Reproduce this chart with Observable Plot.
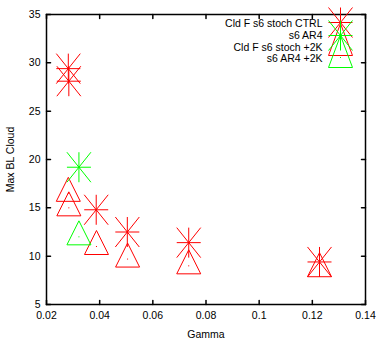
<!DOCTYPE html>
<html><head><meta charset="utf-8">
<script src="https://cdn.jsdelivr.net/npm/d3@7"></script>
<script src="https://cdn.jsdelivr.net/npm/@observablehq/plot@0.6"></script>
<style>body{margin:0;background:#fff}</style>
</head><body><div id="chart"></div>
<script>
// Data
const ctrlGamma = [0.0282, 0.0284, 0.0387, 0.0504, 0.0735, 0.1227];
const ctrlCloud = [29.4, 28.1, 14.8, 12.5, 11.4, 9.4];
const ar4Gamma = [0.0282, 0.0284, 0.0388, 0.0505, 0.0735, 0.1227];
const ar4Cloud = [16.5, 15.0, 11.0, 9.7, 9.0, 8.7];
const stoch2kGamma = [0.0322];
const stoch2kCloud = [19.2];
const ar42kGamma = [0.0322];
const ar42kCloud = [12.0];
const seriesNames = ["Cld F s6 stoch CTRL", "s6 AR4", "Cld F s6 stoch +2K", "s6 AR4 +2K"];
const seriesColors = ["#ff0000", "#ff0000", "#00ff00", "#00ff00"];
const xTicks = [0.02, 0.04, 0.06, 0.08, 0.1, 0.12, 0.14];
const yTicks = [5, 10, 15, 20, 25, 30, 35];

// gnuplot-like point shapes
const star = {draw(c) {
  c.moveTo(-12, 0); c.lineTo(12, 0);
  c.moveTo(0, -15); c.lineTo(0, 15);
  c.moveTo(-12, -15); c.lineTo(12, 15);
  c.moveTo(12, -15); c.lineTo(-12, 15);
  c.moveTo(-0.6, 0); c.lineTo(0.6, 0);
}};
const tri = {draw(c) {
  c.moveTo(0, -16); c.lineTo(12, 8); c.lineTo(-12, 8); c.closePath();
  c.moveTo(-0.5, 0); c.lineTo(0.5, 0);
}};
const triLegend = {draw(c) {
  c.moveTo(0, -24); c.lineTo(12, 8); c.lineTo(-12, 8); c.closePath();
  c.moveTo(-0.5, -2); c.lineTo(0.5, -2);
}};
const tickShape = {draw(c, l) { c.moveTo(0, 0); c.lineTo(0, -l); }};

const pts = (xs, ys) => xs.map((x, i) => ({x, y: ys[i]}));

const legendSymbols = [star, triLegend, star, triLegend];
const legendTextDy = [9, 21, 33, 44];
const legendSymDy = [8, 33, 21, 45];

const legendMarks = [];
seriesNames.forEach((name, i) => {
  legendMarks.push(Plot.text([name], {frameAnchor: "top-right", text: d => d, dx: -43, dy: legendTextDy[i], textAnchor: "end", lineAnchor: "middle", fill: "black"}));
});
seriesNames.forEach((name, i) => {
  legendMarks.push(Plot.dot([name], {frameAnchor: "top-right", dx: -25, dy: legendSymDy[i], symbol: legendSymbols[i], stroke: seriesColors[i], fill: "none", strokeWidth: 1}));
});

const tickOpts = {length: 4, anchor: "start", shape: tickShape, stroke: "black", strokeWidth: 1.5};

const chart = Plot.plot({
  width: 377,
  height: 339,
  marginLeft: 46,
  marginRight: 12,
  marginTop: 14,
  marginBottom: 35,
  style: {fontFamily: "'Liberation Sans', Arial, sans-serif", fontSize: "10.5px", background: "#fff", color: "black"},
  x: {domain: [0.02, 0.14]},
  y: {domain: [5, 35]},
  marks: [
    Plot.axisX(xTicks, {tickSize: 0, tickPadding: 7, tickFormat: d => String(d), label: "Gamma", labelAnchor: "center", labelArrow: "none", labelOffset: 33}),
    Plot.axisY(yTicks, {tickSize: 0, tickPadding: 6, tickFormat: d => String(d), label: "Max BL Cloud", labelAnchor: "center", labelArrow: "none", labelOffset: 40}),
    Plot.vector(xTicks, {x: d => d, y: 5, rotate: 0, ...tickOpts}),
    Plot.vector(xTicks, {x: d => d, y: 35, rotate: 180, ...tickOpts}),
    Plot.vector(yTicks, {x: 0.02, y: d => d, rotate: 90, ...tickOpts}),
    Plot.vector(yTicks, {x: 0.14, y: d => d, rotate: 270, ...tickOpts}),
    Plot.frame({stroke: "black", strokeWidth: 1.5}),
    Plot.dot(pts(ctrlGamma, ctrlCloud), {x: "x", y: "y", symbol: star, stroke: seriesColors[0], fill: "none", strokeWidth: 1}),
    Plot.dot(pts(ar4Gamma, ar4Cloud), {x: "x", y: "y", symbol: tri, stroke: seriesColors[1], fill: "none", strokeWidth: 1}),
    Plot.dot(pts(stoch2kGamma, stoch2kCloud), {x: "x", y: "y", symbol: star, stroke: seriesColors[2], fill: "none", strokeWidth: 1}),
    Plot.dot(pts(ar42kGamma, ar42kCloud), {x: "x", y: "y", symbol: tri, stroke: seriesColors[3], fill: "none", strokeWidth: 1}),
    ...legendMarks
  ]
});
document.getElementById("chart").appendChild(chart);
</script>
</body></html>
